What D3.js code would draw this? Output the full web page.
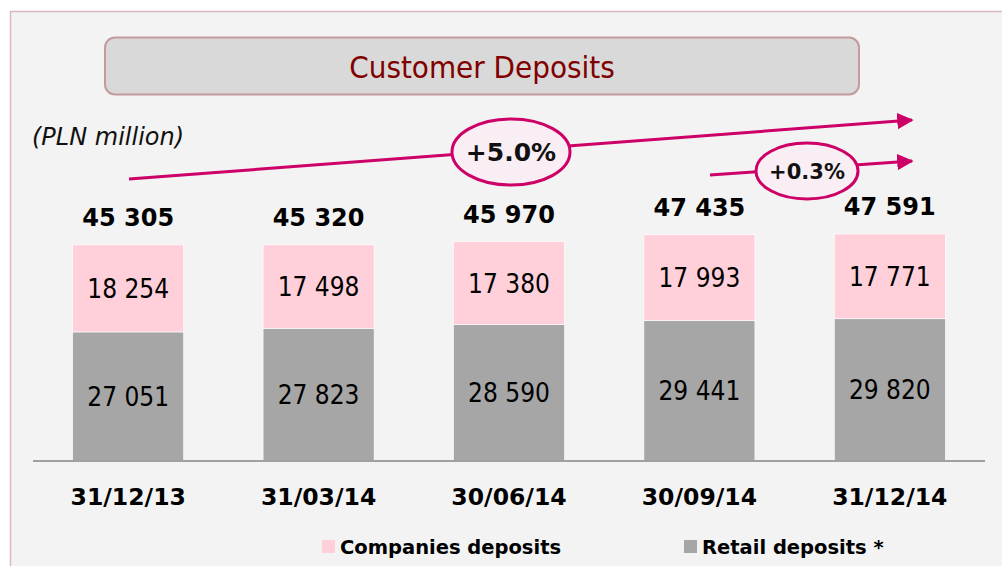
<!DOCTYPE html>
<html>
<head>
<meta charset="utf-8">
<script src="https://cdn.jsdelivr.net/npm/d3@7/dist/d3.min.js"></script>
<style>
  html, body { margin: 0; padding: 0; background: #ffffff; }
  svg { display: block; }
  text { font-family: "DejaVu Sans", Verdana, sans-serif; }
  .cond { font-family: "DejaVu Sans Condensed", "DejaVu Sans", sans-serif; font-stretch: condensed; }
</style>
</head>
<body>
<svg id="chart" width="1002" height="566"></svg>
<script>
// Quarter-end dates
const categories = ["31/12/13", "31/03/14", "30/06/14", "30/09/14", "31/12/14"];
// PLN million
const companiesDeposits = [18254, 17498, 17380, 17993, 17771];
const retailDeposits = [27051, 27823, 28590, 29441, 29820];
const totals = [45305, 45320, 45970, 47435, 47591];
const seriesNames = ["Companies deposits", "Retail deposits *"];
const growthLabels = ["+5.0%", "+0.3%"];

const fmt = v => d3.format(",")(v).replace(/,/g, " ");

const svg = d3.select("#chart");
const W = 1002, H = 566;

// Panel frame
svg.append("rect").attr("x", 0).attr("y", 0).attr("width", W).attr("height", H).attr("fill", "#ffffff");
svg.append("rect").attr("x", 10.5).attr("y", 11.5).attr("width", W + 20).attr("height", H + 20)
  .attr("fill", "#f3f3f3").attr("stroke", "#d8b8bc").attr("stroke-width", 1.5);

// Title box
svg.append("rect").attr("x", 105).attr("y", 37.5).attr("width", 754).attr("height", 57)
  .attr("rx", 10).attr("ry", 10)
  .attr("fill", "#d9d9d9").attr("stroke", "#c49a9c").attr("stroke-width", 2);
svg.append("text").attr("class", "cond").attr("x", 482).attr("y", 78).attr("text-anchor", "middle")
  .attr("font-size", 31).attr("fill", "#800000").text("Customer Deposits");

svg.append("text").attr("x", 32).attr("y", 145).attr("font-size", 24)
  .attr("font-style", "italic").attr("fill", "#111").text("(PLN million)");

// Scales
const x = d3.scaleBand().domain(categories).range([33, 985]).paddingInner(0.417).paddingOuter(0.2085);
const y = d3.scaleLinear().domain([0, 50000]).range([461, 461 - 238.5]);

const rows = categories.map((c, i) => ({
  cat: c, retail: retailDeposits[i], companies: companiesDeposits[i], total: totals[i]
}));
const stack = d3.stack().keys(["retail", "companies"])(rows);
const colors = { retail: "#a6a6a6", companies: "#ffd0da" };

const g = svg.append("g");
stack.forEach(layer => {
  g.selectAll(null).data(layer).enter().append("rect")
    .attr("x", d => x(d.data.cat))
    .attr("width", x.bandwidth())
    .attr("y", d => y(d[1]))
    .attr("height", d => y(d[0]) - y(d[1]))
    .attr("fill", colors[layer.key])
    .attr("stroke", "#ffffff").attr("stroke-width", 0.6);
  g.selectAll(null).data(layer).enter().append("text")
    .attr("class", "cond")
    .attr("x", d => x(d.data.cat) + x.bandwidth() / 2)
    .attr("y", d => (y(d[0]) + y(d[1])) / 2 + 9.5)
    .attr("text-anchor", "middle").attr("font-size", 26).attr("fill", "#000")
    .text(d => fmt(d.data[layer.key]));
});

// Totals
g.selectAll(null).data(rows).enter().append("text")
  .attr("x", d => x(d.cat) + x.bandwidth() / 2)
  .attr("y", d => y(d.total) - 19)
  .attr("text-anchor", "middle").attr("font-size", 24).attr("font-weight", "bold").attr("fill", "#000")
  .text(d => fmt(d.total));

// Category axis
const axis = svg.append("g").attr("transform", "translate(0,461)")
  .call(d3.axisBottom(x).tickSize(0).tickPadding(0));
axis.select(".domain").attr("stroke", "#a0a0a0").attr("stroke-width", 2).attr("d", "M33,0H985");
axis.selectAll(".tick text").attr("y", 44).attr("dy", null)
  .attr("font-size", 23.5).attr("font-weight", "bold").attr("fill", "#000")
  .attr("font-family", "DejaVu Sans, Verdana, sans-serif");

// Legend
const legend = [{ name: seriesNames[0], color: colors.companies, x: 322 },
                { name: seriesNames[1], color: colors.retail, x: 684 }];
legend.forEach(l => {
  svg.append("rect").attr("x", l.x).attr("y", 540).attr("width", 13).attr("height", 13).attr("fill", l.color);
  svg.append("text").attr("x", l.x + 18).attr("y", 554).attr("font-size", 19.5)
    .attr("font-weight", "bold").attr("fill", "#000").text(l.name);
});

// Growth arrows
const magenta = "#cc0066";
svg.append("defs").append("marker").attr("id", "arrow")
  .attr("viewBox", "0 0 10 10").attr("refX", 9).attr("refY", 5)
  .attr("markerWidth", 5.5).attr("markerHeight", 5.5).attr("orient", "auto")
  .attr("markerUnits", "strokeWidth")
  .append("path").attr("d", "M0,0L10,5L0,10Z").attr("fill", magenta);

const arrows = [
  { x1: 129, y1: 179, x2: 912, y2: 120, cx: 511, cy: 152, rx: 59, ry: 33, label: growthLabels[0], fs: 25 },
  { x1: 710, y1: 175, x2: 912, y2: 161, cx: 807, cy: 171, rx: 51, ry: 28, label: growthLabels[1], fs: 21 }
];
arrows.forEach(a => {
  svg.append("line").attr("x1", a.x1).attr("y1", a.y1).attr("x2", a.x2).attr("y2", a.y2)
    .attr("stroke", magenta).attr("stroke-width", 3).attr("marker-end", "url(#arrow)");
  svg.append("ellipse").attr("cx", a.cx).attr("cy", a.cy).attr("rx", a.rx).attr("ry", a.ry)
    .attr("fill", "#f9eef3").attr("stroke", magenta).attr("stroke-width", 3);
  svg.append("text").attr("x", a.cx).attr("y", a.cy + a.fs * 0.36).attr("text-anchor", "middle")
    .attr("font-size", a.fs).attr("font-weight", "bold").attr("fill", "#111").text(a.label);
});
</script>
</body>
</html>
